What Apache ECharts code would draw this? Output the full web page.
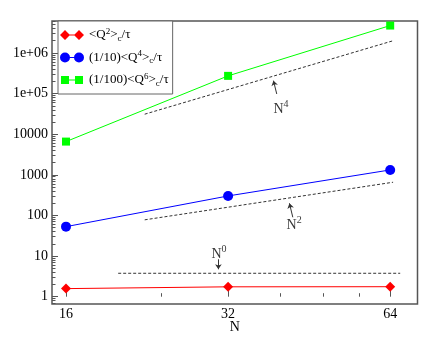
<!DOCTYPE html>
<html>
<head>
<meta charset="utf-8">
<script src="https://cdn.jsdelivr.net/npm/echarts@6/dist/echarts.min.js"></script>
<style>
html, body { margin: 0; padding: 0; background: #fff; }
#chart { width: 443px; height: 342px; }
</style>
</head>
<body>
<div id="chart"></div>
<script>
// lattice sizes and cumulants
const sizes = [16, 32, 64]
const q2 = [1.58, 1.75, 1.76]
const q4 = [53, 302, 1320]
const q6 = [6580, 273000, 4730000]

// guide lines (N^4, N^2, N^0)
const guideN = [22.4, 64.8]
const guideN4 = [31100, 2000000]
const guideN2 = [78, 657]
const flatN = [20, 66.8]
const flatN0 = [3.77, 3.77]

const xTicks = [16, 32, 64]
const xMinorTicks = [24, 40, 48, 56]
const yTicks = [1, 10, 100, 1000, 10000, 100000, 1000000]

// annotations
const noteExp = ['4', '2', '0']
const noteAt = [[38.85, 41800], [41.1, 57.3], [29.8, 11.25]]
const arrowFrom = [[39.4, 97800], [42.2, 90.1], [30.7, 8.33]]
const arrowTo = [[38.85, 208000], [41.6, 199], [30.7, 4.73]]

const FONT = 'Liberation Serif'
const lx = n => Math.log2(n)
const ly = v => Math.log10(v)
const pt = (n, v) => [lx(n), ly(v)]

const xMin = 3.9136, xMax = 6.1685
const yMin = -0.18, yMax = 6.787

const yMinor = []
for (let d = -1; d <= 6; d++) {
  for (let k = 2; k <= 9; k++) {
    const v = ly(k * Math.pow(10, d))
    if (v > yMin && v < yMax) yMinor.push(v)
  }
}

const legendText = {
  q2: '{t|<Q}{sup|2}{t|>}{sub|c}{t|/τ}',
  q4: '{t|(1/10)<Q}{sup|4}{t|>}{sub|c}{t|/τ}',
  q6: '{t|(1/100)<Q}{sup|6}{t|>}{sub|c}{t|/τ}'
}

const iconDiamond = 'path://M0 0M24 10M0 5L5 0L10 5L5 10ZM14 5L19 0L24 5L19 10ZM9 4.4L15 4.4L15 5.6L9 5.6Z'
const iconCircle = 'path://M0 0M24 10M0 5A5 5 0 1 1 10 5A5 5 0 1 1 0 5ZM14 5A5 5 0 1 1 24 5A5 5 0 1 1 14 5ZM9 4.4L15 4.4L15 5.6L9 5.6Z'
const iconSquare = 'path://M0 0M24 10M1 1L9 1L9 9L1 9ZM15 1L23 1L23 9L15 9ZM9 4.4L15 4.4L15 5.6L9 5.6Z'

const mainSeries = (name, vals, color, symbol, size) => ({
  name: name,
  type: 'line',
  data: sizes.map((n, i) => pt(n, vals[i])),
  symbol: symbol,
  symbolSize: size,
  itemStyle: { color: color, borderWidth: 0 },
  lineStyle: { color: color, width: 1 },
  z: 5
})

const guide = (ns, vs) => ({
  type: 'line',
  data: ns.map((n, i) => pt(n, vs[i])),
  showSymbol: false,
  silent: true,
  lineStyle: { color: '#333', width: 1, type: [3, 2] },
  z: 3
})

var chartDom = document.getElementById('chart')
var myChart = echarts.init(chartDom)
var option

option = {
  animation: false,
  backgroundColor: '#fff',
  grid: {
    left: 52, top: 21, right: 25.5, bottom: 38,
    show: true, borderColor: '#555', borderWidth: 1.5,
    outerBoundsMode: 'none'
  },
  legend: {
    left: 58, top: 21,
    orient: 'vertical',
    data: [
      { name: 'q2', icon: iconDiamond },
      { name: 'q4', icon: iconCircle },
      { name: 'q6', icon: iconSquare }
    ],
    itemWidth: 24, itemHeight: 10, itemGap: 6.5,
    padding: [6, 4, 6, 2],
    backgroundColor: '#fff',
    borderColor: '#666', borderWidth: 1,
    borderRadius: 0,
    formatter: name => legendText[name],
    textStyle: {
      fontFamily: FONT, fontSize: 13, color: '#000',
      rich: {
        t: { fontFamily: FONT, fontSize: 13, color: '#000', lineHeight: 16, verticalAlign: 'middle' },
        sup: { fontFamily: FONT, fontSize: 9, color: '#000', lineHeight: 8, verticalAlign: 'top' },
        sub: { fontFamily: FONT, fontSize: 9, color: '#000', lineHeight: 10, verticalAlign: 'bottom' }
      }
    }
  },
  xAxis: [
    {
      type: 'value', min: xMin, max: xMax, position: 'bottom',
      name: 'N', nameLocation: 'middle', nameGap: 16, nameMoveOverlap: false,
      nameTextStyle: { fontFamily: FONT, fontSize: 14, color: '#000' },
      axisLine: { show: false },
      splitLine: { show: false },
      axisTick: { inside: true, length: 6, customValues: xTicks.map(lx), lineStyle: { color: '#555' } },
      axisLabel: {
        customValues: xTicks.map(lx), margin: 3,
        fontFamily: FONT, fontSize: 14, color: '#000',
        formatter: v => String(Math.round(Math.pow(2, v)))
      }
    },
    {
      type: 'value', min: xMin, max: xMax, position: 'bottom', offset: 0,
      axisLine: { show: false },
      splitLine: { show: false },
      axisLabel: { show: false },
      axisTick: { inside: true, length: 3.5, customValues: xMinorTicks.map(lx), lineStyle: { color: '#555' } }
    }
  ],
  yAxis: [
    {
      type: 'value', min: yMin, max: yMax, position: 'left',
      axisLine: { show: false },
      splitLine: { show: false },
      axisTick: { inside: true, length: 6, customValues: yTicks.map(ly), lineStyle: { color: '#555' } },
      axisLabel: {
        customValues: yTicks.map(ly), margin: 4,
        fontFamily: FONT, fontSize: 14, color: '#000',
        formatter: v => {
          const e = Math.round(v)
          return e >= 5 ? '1e+0' + e : String(Math.pow(10, e))
        }
      }
    },
    {
      type: 'value', min: yMin, max: yMax, position: 'left', offset: 0,
      axisLine: { show: false },
      splitLine: { show: false },
      axisLabel: { show: false },
      axisTick: { inside: true, length: 3.5, customValues: yMinor, lineStyle: { color: '#555' } }
    }
  ],
  series: [
    guide(guideN, guideN4),
    guide(guideN, guideN2),
    guide(flatN, flatN0),
    mainSeries('q2', q2, '#ff0000', 'diamond', 10),
    mainSeries('q4', q4, '#0000ff', 'circle', 10),
    mainSeries('q6', q6, '#00ff00', 'rect', 8),
    {
      type: 'lines',
      coordinateSystem: 'cartesian2d',
      silent: true,
      symbol: ['none', 'arrow'],
      symbolSize: 5,
      lineStyle: { color: '#333', width: 1, opacity: 1, curveness: 0 },
      data: arrowFrom.map((a, i) => ({ coords: [pt(a[0], a[1]), pt(arrowTo[i][0], arrowTo[i][1])] })),
      z: 4
    },
    {
      type: 'scatter',
      silent: true,
      symbolSize: 0,
      data: noteAt.map((p, i) => ({ value: pt(p[0], p[1]), exp: noteExp[i] })),
      label: {
        show: true,
        position: 'inside',
        align: 'left',
        verticalAlign: 'middle',
        formatter: p => '{n|N}{s|' + p.data.exp + '}',
        rich: {
          n: { fontFamily: FONT, fontSize: 14, color: '#000', lineHeight: 20, verticalAlign: 'middle' },
          s: { fontFamily: FONT, fontSize: 10, color: '#000', lineHeight: 7, verticalAlign: 'top' }
        }
      },
      z: 4
    }
  ]
}
option && myChart.setOption(option)
</script>
</body>
</html>
